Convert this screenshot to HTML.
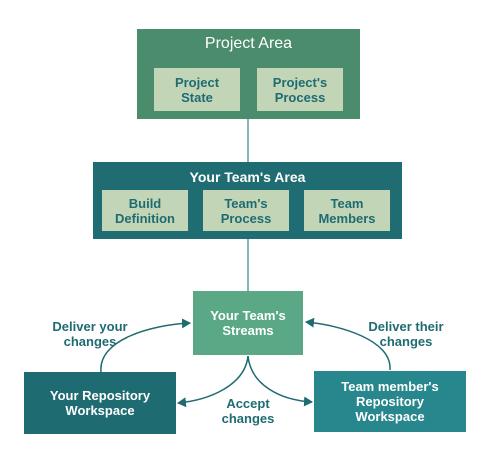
<!DOCTYPE html>
<html><head><style>
body{margin:0;width:493px;height:458px;background:#fff;font-family:"Liberation Sans",sans-serif;position:relative;overflow:hidden}
.b{position:absolute;box-sizing:border-box;display:flex;align-items:center;justify-content:center;text-align:center;font-weight:bold;font-size:13px;line-height:15px}
.in{background:#c2d6b7;color:#1f6b72}
.w{color:#fff}
.lbl{position:absolute;color:#1f6b72;font-weight:bold;font-size:13px;line-height:15px;text-align:center}
</style></head><body>
<svg width="493" height="458" style="position:absolute;left:0;top:0">
<defs><marker id="ah" markerWidth="10" markerHeight="10" refX="8" refY="5" orient="auto" markerUnits="userSpaceOnUse"><path d="M0,0 L9,5 L0,10 Z" fill="#1f6b72"/></marker></defs>
<line x1="248" y1="119" x2="248" y2="162" stroke="#5f9aa0" stroke-width="1.5"/>
<line x1="248" y1="239" x2="248" y2="291" stroke="#5f9aa0" stroke-width="1.5"/>
<path d="M101,372 C98,340 150,325 190,323" fill="none" stroke="#1f6b72" stroke-width="1.5" marker-end="url(#ah)"/>
<path d="M390,370 C392,340 340,325 306,322" fill="none" stroke="#1f6b72" stroke-width="1.5" marker-end="url(#ah)"/>
<path d="M248,356 C245,385 210,400 178,403" fill="none" stroke="#1f6b72" stroke-width="1.5" marker-end="url(#ah)"/>
<path d="M248,356 C251,385 280,400 312,402" fill="none" stroke="#1f6b72" stroke-width="1.5" marker-end="url(#ah)"/>
</svg>
<div class="b" style="left:137px;top:29px;width:223px;height:90px;background:#4a8c6c;align-items:flex-start;padding-top:7px;font-weight:normal;color:#fff;font-size:16px">Project Area</div>
<div class="b in" style="left:154px;top:68px;width:86px;height:43px">Project<br>State</div>
<div class="b in" style="left:257px;top:68px;width:86px;height:43px">Project's<br>Process</div>
<div class="b w" style="left:93px;top:162px;width:309px;height:77px;background:#1f6d72;align-items:flex-start;padding-top:8px;font-size:14px">Your Team's Area</div>
<div class="b in" style="left:102px;top:190px;width:86px;height:41px">Build<br>Definition</div>
<div class="b in" style="left:203px;top:190px;width:86px;height:41px">Team's<br>Process</div>
<div class="b in" style="left:304px;top:190px;width:86px;height:41px">Team<br>Members</div>
<div class="b w" style="left:193px;top:291px;width:110px;height:64px;background:#5aa886">Your Team's<br>Streams</div>
<div class="b w" style="left:24px;top:372px;width:152px;height:62px;background:#1f6b72">Your Repository<br>Workspace</div>
<div class="b w" style="left:314px;top:371px;width:152px;height:61px;background:#27878c">Team member's<br>Repository<br>Workspace</div>
<div class="lbl" style="left:40px;top:319px;width:100px">Deliver your<br>changes</div>
<div class="lbl" style="left:356px;top:319px;width:100px">Deliver their<br>changes</div>
<div class="lbl" style="left:208px;top:396px;width:80px">Accept<br>changes</div>
</body></html>
